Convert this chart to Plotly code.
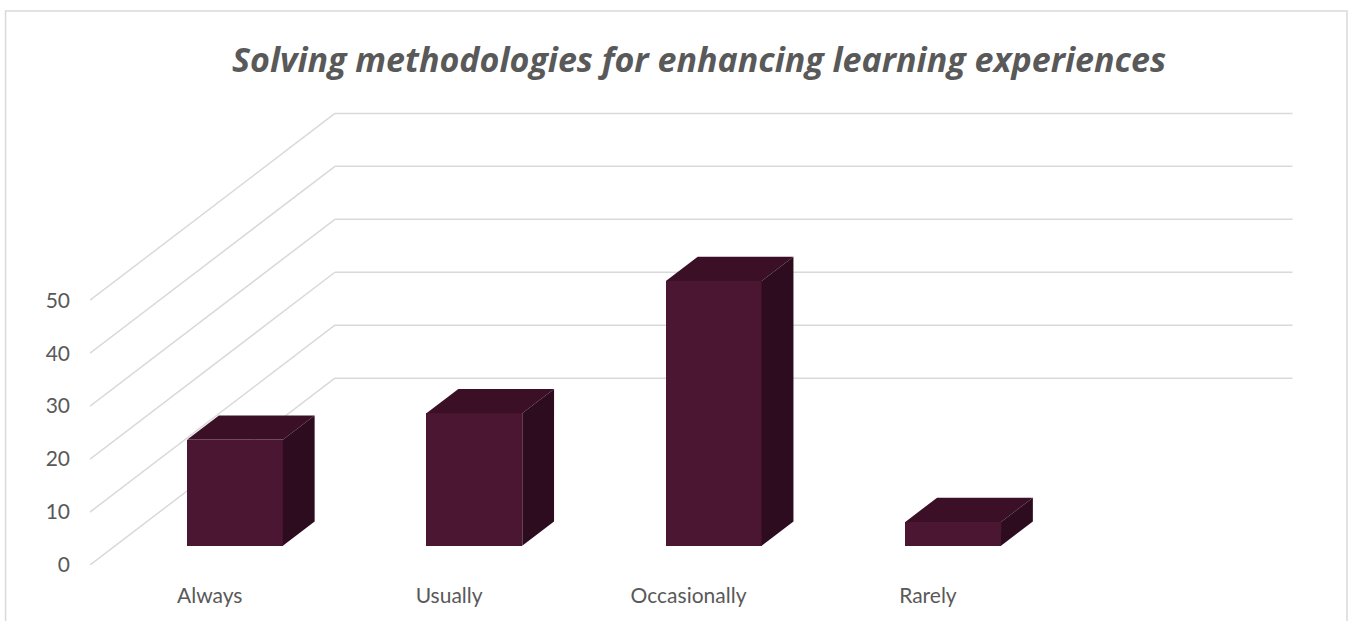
import plotly.graph_objects as go

# ---- data ----
categories = ["Always", "Usually", "Occasionally", "Rarely"]
values = [20, 25, 50, 4.5]
y_ticks = [0, 10, 20, 30, 40, 50]
title_text = "Solving methodologies for enhancing learning experiences"

# ---- style / geometry (pseudo-3D projection) ----
W, H = 1355, 621
PX_CAT = 239.5           # pixels per category unit
PX_VAL = 5.3             # pixels per value unit
DEPTH_DX = 245 / PX_CAT  # full floor depth, in category units
DEPTH_DY = 187 / PX_VAL  # full floor depth, in value units
D_FRONT = 0.103          # bar front face depth (fraction of floor)
D_BACK = 0.233           # bar back face depth
BAR_W = 0.40
X_RANGE = [-0.5, 4.55]
Y_RANGE = [0, 88]
LEFT_PX, FLOOR_PX = 90, 565

FRONT_C = "#4B1632"
TOP_C = "#3B1027"
SIDE_C = "#2E0C1F"
GRID_C = "#D9D9D9"
TEXT_C = "#595959"
FONT = "Lato"
TITLE_FONT = "Open Sans"

plot_w = (X_RANGE[1] - X_RANGE[0]) * PX_CAT
plot_h = (Y_RANGE[1] - Y_RANGE[0]) * PX_VAL
m_l = LEFT_PX
m_r = W - m_l - plot_w
m_b = H - FLOOR_PX
m_t = H - m_b - plot_h

fig = go.Figure()

# front faces
fx = [i + D_FRONT * DEPTH_DX for i in range(len(categories))]
fig.add_trace(go.Bar(
    x=fx, y=values, base=[D_FRONT * DEPTH_DY] * len(values), width=BAR_W,
    marker=dict(color=FRONT_C, line=dict(width=0)),
    hoverinfo="skip", showlegend=False,
))

# top and side faces
ddx = (D_BACK - D_FRONT) * DEPTH_DX
ddy = (D_BACK - D_FRONT) * DEPTH_DY
for i, v in enumerate(values):
    x0 = fx[i] - BAR_W / 2
    x1 = fx[i] + BAR_W / 2
    b = D_FRONT * DEPTH_DY
    fig.add_trace(go.Scatter(
        x=[x0, x1, x1 + ddx, x0 + ddx, x0],
        y=[v + b, v + b, v + b + ddy, v + b + ddy, v + b],
        fill="toself", fillcolor=TOP_C, mode="lines",
        line=dict(width=0, color=TOP_C), hoverinfo="skip", showlegend=False,
    ))
    fig.add_trace(go.Scatter(
        x=[x1, x1, x1 + ddx, x1 + ddx, x1],
        y=[b, v + b, v + b + ddy, b + ddy, b],
        fill="toself", fillcolor=SIDE_C, mode="lines",
        line=dict(width=0, color=SIDE_C), hoverinfo="skip", showlegend=False,
    ))

# gridlines: left wall diagonals + back wall horizontals
shapes = []
x_left = -0.5
x_right = len(categories) - 0.5
for t in y_ticks:
    shapes.append(dict(type="line", xref="x", yref="y", layer="below",
                       x0=x_left, y0=t, x1=x_left + DEPTH_DX, y1=t + DEPTH_DY,
                       line=dict(color=GRID_C, width=1.5)))
    shapes.append(dict(type="line", xref="x", yref="y", layer="below",
                       x0=x_left + DEPTH_DX, y0=t + DEPTH_DY,
                       x1=x_right + DEPTH_DX, y1=t + DEPTH_DY,
                       line=dict(color=GRID_C, width=1.5)))

# chart border (paper coords derived from page pixels)
def px_to_paper_x(px):
    return (px - m_l) / plot_w

def px_to_paper_y(py):
    return (H - m_b - py) / plot_h

shapes.append(dict(type="rect", xref="paper", yref="paper", layer="below",
                   x0=px_to_paper_x(5.5), x1=px_to_paper_x(1347.5),
                   y0=px_to_paper_y(660), y1=px_to_paper_y(10.5),
                   line=dict(color=GRID_C, width=1.5), fillcolor="rgba(0,0,0,0)"))

fig.update_layout(
    width=W, height=H, autosize=False,
    paper_bgcolor="white", plot_bgcolor="white",
    margin=dict(l=m_l, r=m_r, t=m_t, b=m_b, pad=0),
    shapes=shapes,
    showlegend=False,
    title=dict(text=title_text, x=699 / W, xref="container",
               xanchor="center",
               y=1 - 60 / H, yref="container", yanchor="middle",
               font=dict(family=TITLE_FONT, size=34, color=TEXT_C,
                         weight="bold", style="italic")),
    xaxis=dict(range=X_RANGE, tickvals=list(range(len(categories))),
               ticktext=categories, showgrid=False, zeroline=False,
               showline=False, ticks="", ticklabelstandoff=16,
               automargin=False, fixedrange=True,
               tickfont=dict(family=FONT, size=21, color=TEXT_C)),
    yaxis=dict(range=Y_RANGE, tickvals=y_ticks, showgrid=False, zeroline=False,
               showline=False, ticks="", ticklabelstandoff=19,
               automargin=False, fixedrange=True,
               tickfont=dict(family=FONT, size=21, color=TEXT_C)),
    bargap=0,
)

fig.write_html(
    "out.html",
    config={"displayModeBar": False},
    post_script="document.body.style.margin='0';document.body.style.overflow='hidden';",
)
